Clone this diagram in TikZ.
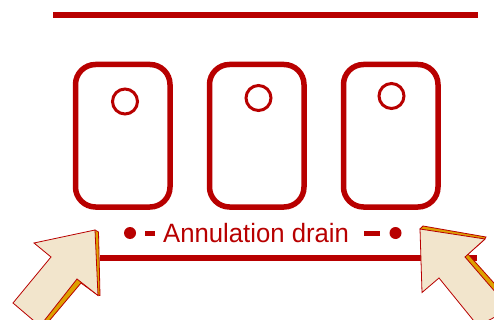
\documentclass[tikz,border=0pt]{standalone}
\usepackage{fontspec}
\setmainfont{Liberation Sans}
\newfontfamily\labfont[FakeStretch=0.97]{Liberation Sans}
\definecolor{dr}{HTML}{B80000}
\definecolor{cream}{HTML}{F2E5CC}
\definecolor{amber}{HTML}{DDA000}
\tikzset{
  plate/.style={draw=dr,line width=5.5pt,rounded corners=20pt},
  hole/.style={draw=dr,line width=3pt},
  bar/.style={draw=dr,line width=6pt},
  shade/.style={fill=amber,draw=dr,line width=.8pt,line join=miter},
  face/.style={fill=cream,draw=dr,line width=.8pt,line join=miter},
  dot/.style={fill=dr,draw=none}
}
\begin{document}
\begin{tikzpicture}[x=1pt,y=-1pt]
\useasboundingbox (0,0) rectangle (494,320);
\clip (0,0) rectangle (494,320);
\fill[white] (0,0) rectangle (494,320);
\draw[bar] (53,15.5) -- (478,15.5);
\draw[plate] (75.5,64.5) rectangle (170,207);
\draw[plate] (209.5,64.5) rectangle (304,207);
\draw[plate] (343.5,64.5) rectangle (438,207);
\draw[hole] (125,101.5) circle (12.5);
\draw[hole] (258.5,98) circle (12.5);
\draw[hole] (391.5,96) circle (12.5);
\draw[bar] (100,257.5) -- (477,257.5);
\fill[dot] (130,233) circle (6);
\fill[dr] (145,230.5) rectangle (155,236);
\fill[dr] (364,230.5) rectangle (380,236);
\fill[dot] (395.5,233) circle (6);
\node[text=dr,font=\labfont\fontsize{26.5}{28}\selectfont,anchor=base west,inner sep=0pt] (lab) at (163,242) {Annulation drain};
% left arrow
\draw[shade] (95,230) -- (98.5,232) -- (100,295.5) -- (97.5,295) -- (81,283) -- (44,327) -- (38,327) -- (77,278) -- cycle;
\draw[face] (95,230) -- (34,243) -- (51,257) -- (13,303) -- (40,326) -- (77,279) -- (98,295.5) -- cycle;
% right arrow
\draw[shade] (420,229) -- (423,226) -- (486,237) -- (484,240) -- (468,254) -- (502,292) -- (497,298) -- (465,257) -- cycle;
\draw[face] (420,229) -- (485,239) -- (465,257) -- (510,309) -- (478,326) -- (439,278) -- (422,292.5) -- cycle;
\end{tikzpicture}
\end{document}
